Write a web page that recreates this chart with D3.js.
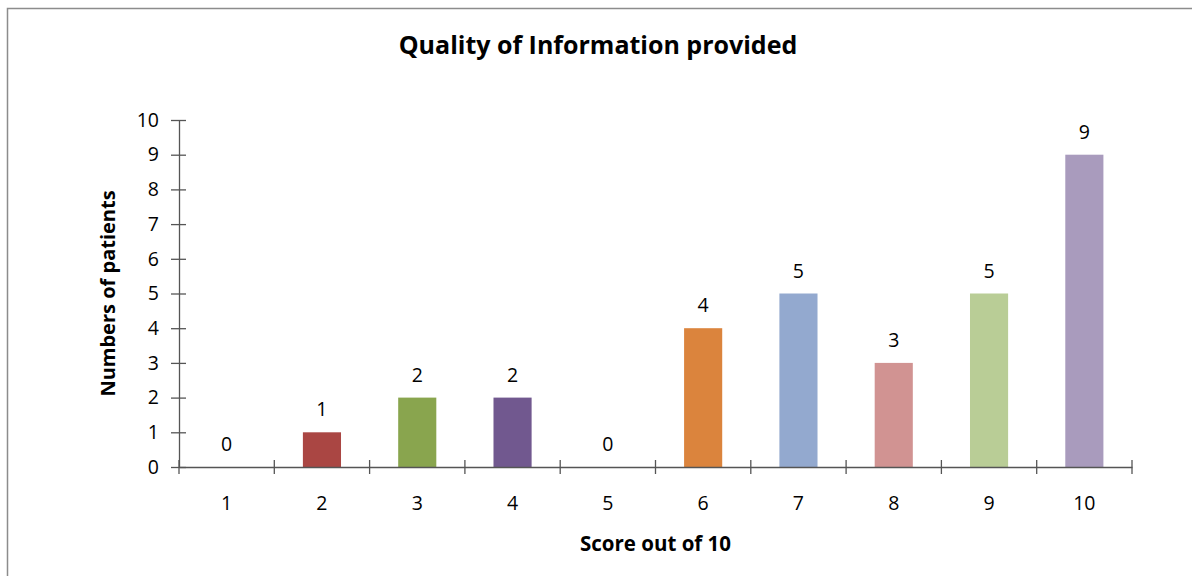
<!DOCTYPE html>
<html><head><meta charset="utf-8">
<script src="https://cdn.jsdelivr.net/npm/d3@7"></script>
<style>html,body{margin:0;padding:0;background:#fff;}svg{display:block;}</style>
</head><body>
<script>
const categories = ["1","2","3","4","5","6","7","8","9","10"];
const values = [0,1,2,2,0,4,5,3,5,9];
const colors = ["#4572A7","#AA4643","#89A54E","#71588F","#4198AF","#DB843D","#93A9CF","#D19392","#B9CD96","#A99BBD"];
const yTicks = [0,1,2,3,4,5,6,7,8,9,10];
const title = "Quality of Information provided";
const xTitle = "Score out of 10";
const yTitle = "Numbers of patients";

(function(){
const W = 1192, H = 576;
const FONT = "'Open Sans', sans-serif";
const svg = d3.select("body").append("svg").attr("width", W).attr("height", H);

svg.append("rect").attr("x",0).attr("y",0).attr("width",W).attr("height",H).attr("fill","#fff");
svg.append("path").attr("d", `M7.5,${H} V8.5 H${W}`).attr("fill","none").attr("stroke","#8c8c8c").attr("stroke-width",1.5);

const pl = 179, pr = 1132, pt = 120, pb = 467;
const x = d3.scaleBand().domain(categories).range([pl, pr]).paddingInner(0.6).paddingOuter(0.3);
const y = d3.scaleLinear().domain([0,10]).range([pb, pt]);

const axisColor = "#555";

svg.selectAll("rect.bar").data(values).enter().append("rect").attr("class","bar")
  .attr("x",(d,i)=>x(categories[i]))
  .attr("width",x.bandwidth())
  .attr("y",d=>y(d))
  .attr("height",d=>y(0)-y(d))
  .attr("fill",(d,i)=>colors[i]);

const yAxisG = svg.append("g").attr("transform",`translate(${pl},0)`)
  .call(d3.axisLeft(y).tickValues(yTicks).tickSize(0).tickPadding(20));
yAxisG.select(".domain").attr("stroke",axisColor).attr("stroke-width",1.3);
yAxisG.selectAll(".tick text").attr("font-family",FONT).attr("font-size",19.5).attr("fill","#000");
yAxisG.selectAll(".tick").append("line").attr("x1",-8).attr("x2",7).attr("stroke",axisColor).attr("stroke-width",1.3);

const bounds = d3.range(categories.length+1).map(i=>pl + i*((pr-pl)/categories.length));
const xAxisG = svg.append("g").attr("transform",`translate(0,${pb})`)
  .call(d3.axisBottom(x).tickSize(0).tickPadding(29));
xAxisG.select(".domain").attr("stroke",axisColor).attr("stroke-width",1.3);
xAxisG.selectAll(".tick text").attr("font-family",FONT).attr("font-size",19.5).attr("fill","#000");
xAxisG.selectAll("line.bnd").data(bounds).enter().append("line").attr("class","bnd")
  .attr("x1",d=>d).attr("x2",d=>d).attr("y1",-7).attr("y2",7).attr("stroke",axisColor).attr("stroke-width",1.3);

svg.selectAll("text.lbl").data(values).enter().append("text").attr("class","lbl")
  .attr("x",(d,i)=>x(categories[i])+x.bandwidth()/2)
  .attr("y",d=>y(d)-16)
  .attr("text-anchor","middle")
  .attr("font-family",FONT).attr("font-size",19.5).attr("fill","#000")
  .text(d=>d);

svg.append("text").attr("x",598).attr("y",54).attr("text-anchor","middle")
  .attr("font-family",FONT).attr("font-weight","bold").attr("font-size",25).attr("fill","#000").text(title);
svg.append("text").attr("x",(pl+pr)/2).attr("y",551).attr("text-anchor","middle")
  .attr("font-family",FONT).attr("font-weight","bold").attr("font-size",20.5).attr("fill","#000").text(xTitle);
svg.append("text").attr("transform",`translate(115,${(pt+pb)/2}) rotate(-90)`).attr("text-anchor","middle")
  .attr("font-family",FONT).attr("font-weight","bold").attr("font-size",20).attr("fill","#000").text(yTitle);
})();
</script>
</body></html>
